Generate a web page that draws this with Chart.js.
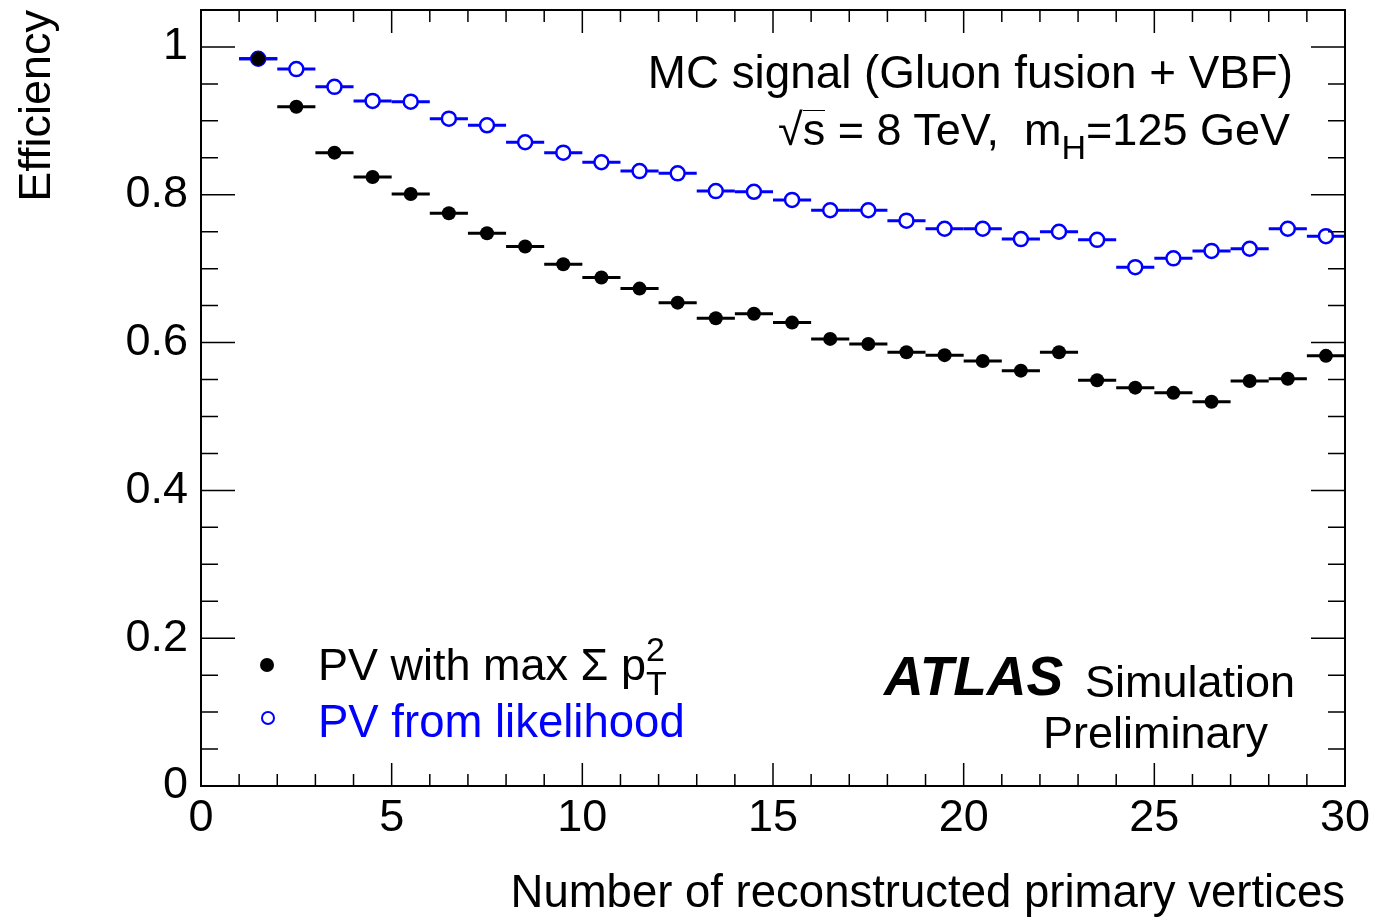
<!DOCTYPE html>
<html>
<head>
<meta charset="utf-8">
<script src="https://cdn.jsdelivr.net/npm/chart.js@4.4.1/dist/chart.umd.min.js"></script>
<style>
  body { margin:0; background:#fff; }
  #wrap { position:relative; width:1375px; height:919px; font-family:"Liberation Sans", Arial, sans-serif; }
  #plot { position:absolute; left:0; top:0; }
  .txt { position:absolute; white-space:nowrap; font-size:45px; line-height:45px; color:#000; }
  .r { text-align:right; }
  .sub { font-size:34px; position:relative; top:14px; }
  .ss { display:inline-block; position:relative; width:22px; height:45px; vertical-align:top; }
  .ss span { position:absolute; left:0; font-size:34px; line-height:34px; }
  .root { display:inline-block; border-top:1.5px solid #000; line-height:38px; }
  .dot { position:absolute; width:14px; height:14px; border-radius:50%; box-sizing:border-box; }
</style>
</head>
<body>
<div id="wrap">
  <canvas id="plot" width="1375" height="919"></canvas>

  <div class="txt r" style="right:82px; top:50px; font-size:45.8px;">MC signal (Gluon fusion + VBF)</div>
  <div class="txt r" style="right:85px; top:107px;">&radic;<span class="root">s</span> = 8 TeV,&nbsp; m<span class="sub">H</span>=125 GeV</div>

  <div class="dot" style="left:260px; top:658px; background:#000;"></div>
  <div class="txt" style="left:318px; top:642px;">PV with max &Sigma; p<span class="ss"><span style="top:-10px;">2</span><span style="top:24px;">T</span></span></div>
  <div class="dot" style="left:261px; top:711px; border:2px solid #0000ff;"></div>
  <div class="txt" style="left:318px; top:699px; color:#0000ff; font-size:45.5px;">PV from likelihood</div>

  <div class="txt" style="left:884px; top:649px; font-size:55px; line-height:55px; font-weight:bold; font-style:italic;">ATLAS</div>
  <div class="txt" style="left:1085px; top:659px;">Simulation</div>
  <div class="txt r" style="right:107px; top:710px;">Preliminary</div>
</div>

<script>
// bin centres (number of reconstructed primary vertices)
const binCenters = [1.5, 2.5, 3.5, 4.5, 5.5, 6.5, 7.5, 8.5, 9.5, 10.5, 11.5, 12.5, 13.5, 14.5, 15.5,
  16.5, 17.5, 18.5, 19.5, 20.5, 21.5, 22.5, 23.5, 24.5, 25.5, 26.5, 27.5, 28.5, 29.5];
const binHalfWidth = 0.5;

// PV with max sum pT^2
const effSumPt2 = [0.984, 0.919, 0.857, 0.824, 0.801, 0.775, 0.748, 0.730, 0.706, 0.688, 0.673, 0.654, 0.633, 0.639, 0.627,
  0.605, 0.598, 0.587, 0.583, 0.575, 0.562, 0.587, 0.549, 0.539, 0.532, 0.520, 0.548, 0.551, 0.582];
// PV from likelihood
const effLikelihood = [0.984, 0.970, 0.946, 0.927, 0.926, 0.903, 0.894, 0.871, 0.857, 0.844, 0.832, 0.829, 0.805, 0.804, 0.793,
  0.779, 0.779, 0.765, 0.754, 0.754, 0.740, 0.750, 0.739, 0.702, 0.714, 0.724, 0.727, 0.754, 0.744];

const xTicks = [0, 5, 10, 15, 20, 25, 30];
const yTicks = [0, 0.2, 0.4, 0.6, 0.8, 1];

const FONT = "'Liberation Sans', Arial, sans-serif";

// ------------------------
// horizontal bin-width bars
// ------------------------
const errBars = {
  id: 'errBars',
  beforeDatasetsDraw(chart) {
    const ctx = chart.ctx, xs = chart.scales.x, ys = chart.scales.y;
    chart.data.datasets.forEach(ds => {
      ctx.save();
      ctx.strokeStyle = ds.borderColor;
      ctx.lineWidth = 3;
      const gap = ds.hollow ? ds.pointRadius : 0;
      ds.data.forEach(p => {
        const xc = xs.getPixelForValue(p.x);
        const x0 = xs.getPixelForValue(p.x - binHalfWidth);
        const x1 = xs.getPixelForValue(p.x + binHalfWidth);
        const y = ys.getPixelForValue(p.y);
        ctx.beginPath();
        ctx.moveTo(x0, y); ctx.lineTo(xc - gap, y);
        ctx.moveTo(xc + gap, y); ctx.lineTo(x1, y);
        ctx.stroke();
      });
      ctx.restore();
    });
  }
};

// ------------------------
// ROOT style frame with inner ticks on all sides
// ------------------------
const frame = {
  id: 'frame',
  afterDraw(chart) {
    const ctx = chart.ctx, a = chart.chartArea, xs = chart.scales.x, ys = chart.scales.y;
    ctx.save();
    ctx.strokeStyle = '#000';
    ctx.lineWidth = 2;
    ctx.strokeRect(a.left, a.top, a.right - a.left, a.bottom - a.top);
    ctx.lineWidth = 1.5;
    ctx.beginPath();
    for (let v = 0; v <= 30; v++) {
      const len = (v % 5 === 0) ? 23 : 12;
      const px = xs.getPixelForValue(v);
      ctx.moveTo(px, a.bottom); ctx.lineTo(px, a.bottom - len);
      ctx.moveTo(px, a.top); ctx.lineTo(px, a.top + len);
    }
    for (let k = 0; k <= 21; k++) {
      const len = (k % 4 === 0) ? 34 : 17;
      const py = ys.getPixelForValue(k * 0.05);
      ctx.moveTo(a.left, py); ctx.lineTo(a.left + len, py);
      ctx.moveTo(a.right, py); ctx.lineTo(a.right - len, py);
    }
    ctx.stroke();
    ctx.restore();
  }
};

const ctx = document.getElementById('plot').getContext('2d');
new Chart(ctx, {
  type: 'scatter',
  data: {
    datasets: [
      {
        label: 'PV with max \u03A3 pT2',
        data: binCenters.map((x, i) => ({ x: x, y: effSumPt2[i] })),
        borderColor: '#000000',
        backgroundColor: '#000000',
        pointRadius: 7,
        pointBorderWidth: 0,
        hollow: false,
        order: 0
      },
      {
        label: 'PV from likelihood',
        data: binCenters.map((x, i) => ({ x: x, y: effLikelihood[i] })),
        borderColor: '#0000ff',
        backgroundColor: 'rgba(255,255,255,0)',
        pointRadius: 7,
        pointBorderWidth: 2.5,
        hollow: true,
        order: 1
      }
    ]
  },
  options: {
    responsive: false,
    animation: false,
    devicePixelRatio: 1,
    layout: { padding: { top: 10, right: 30, left: 0, bottom: 0 } },
    plugins: { legend: { display: false }, tooltip: { enabled: false } },
    scales: {
      x: {
        type: 'linear', min: 0, max: 30,
        grid: { display: false },
        border: { display: false },
        afterBuildTicks: s => { s.ticks = xTicks.map(v => ({ value: v })); },
        afterFit: s => { s.height = 133; s.paddingLeft = 0; s.paddingRight = 0; },
        ticks: { color: '#000', padding: -2, maxRotation: 0, autoSkip: false,
          font: { family: FONT, size: 45 }, callback: v => String(v) },
        title: { display: true, text: 'Number of reconstructed primary vertices', align: 'end',
          color: '#000', font: { family: FONT, size: 45.5, lineHeight: 1.0 }, padding: { top: 0, bottom: 2 } }
      },
      y: {
        type: 'linear', min: 0, max: 1.05,
        grid: { display: false },
        border: { display: false },
        afterBuildTicks: s => { s.ticks = yTicks.map(v => ({ value: v })); },
        afterFit: s => { s.width = 201; s.paddingTop = 0; s.paddingBottom = 0; },
        ticks: { color: '#000', padding: 5, autoSkip: false,
          font: { family: FONT, size: 45 }, callback: v => String(v) },
        title: { display: true, text: 'Efficiency', align: 'end',
          color: '#000', font: { family: FONT, size: 45 }, padding: { top: 11, bottom: 0 } }
      }
    }
  },
  plugins: [errBars, frame]
});
</script>
</body>
</html>
